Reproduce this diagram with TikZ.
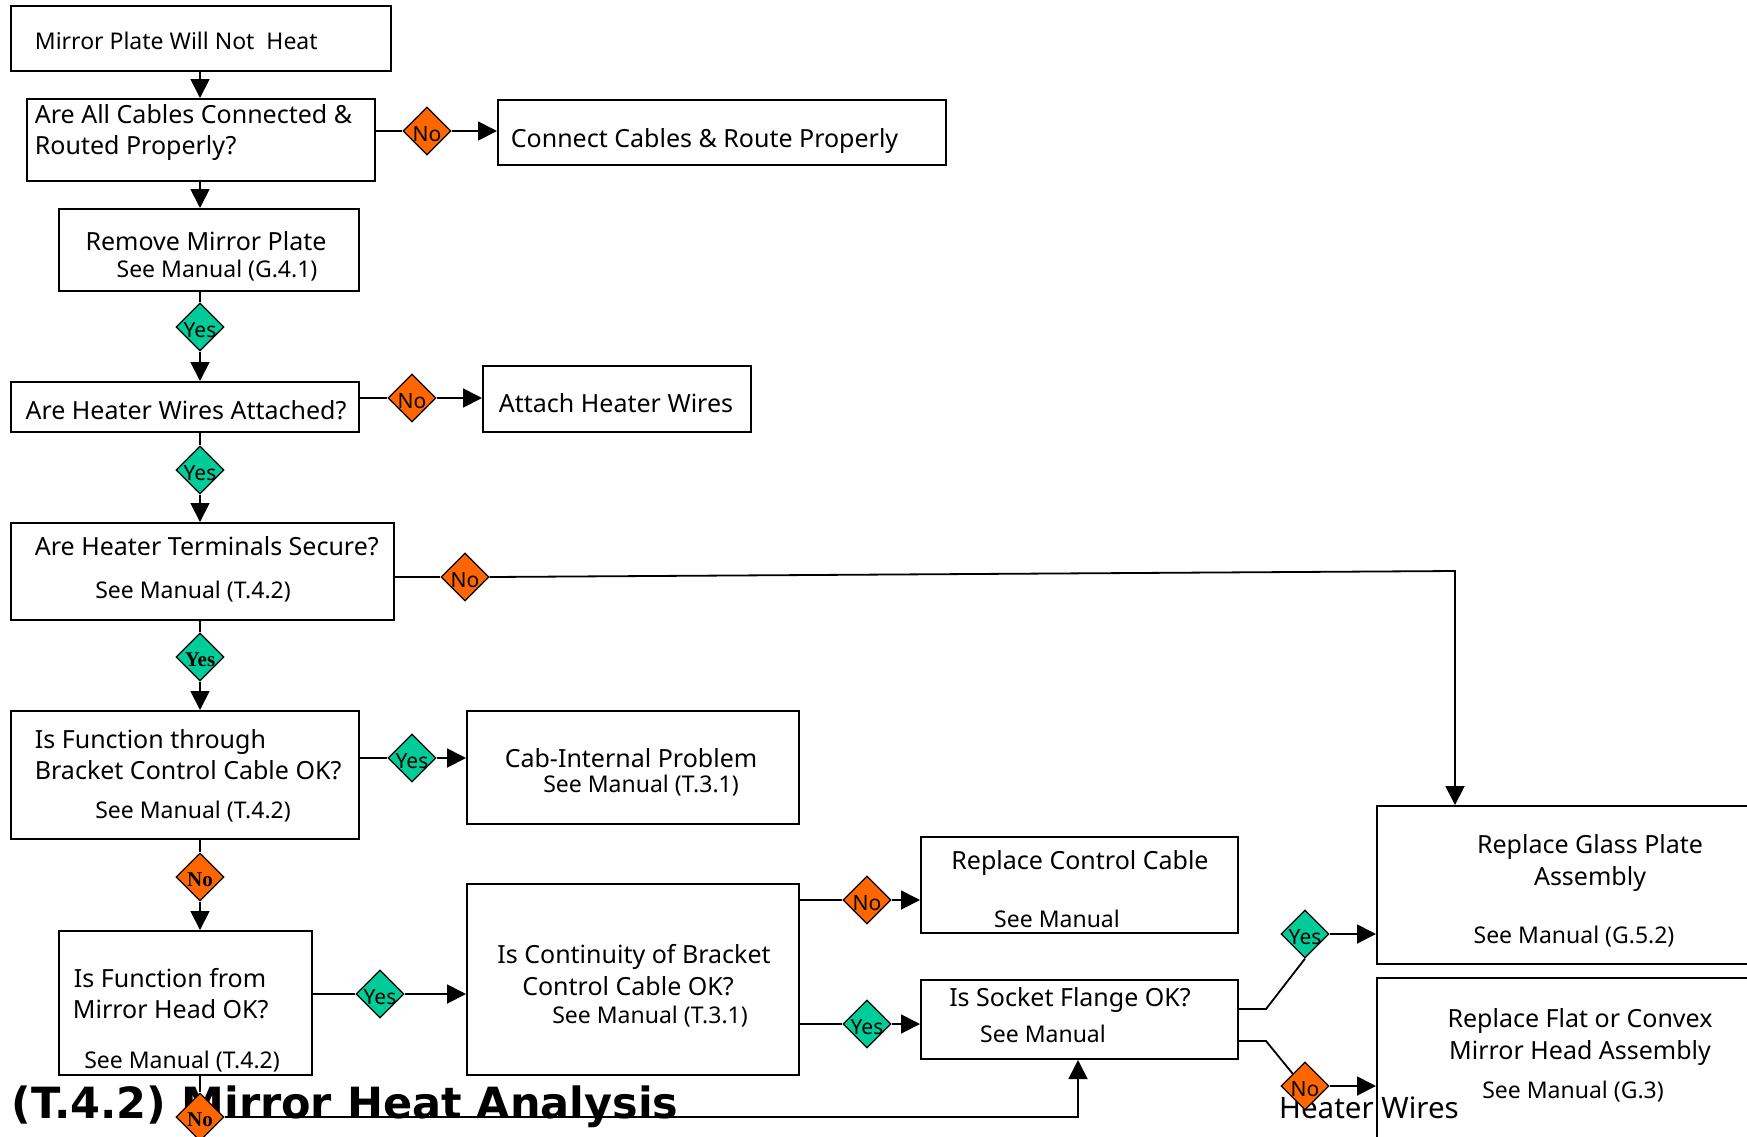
\documentclass[tikz,border=0pt]{standalone}
\usepackage{fontspec}
\setmainfont{Noto Sans}
\newfontfamily\serifyn{Liberation Serif}
\newfontfamily\titlefont{DejaVu Sans}
\newcommand\ynbold{\serifyn\bfseries}
\usetikzlibrary{shapes.geometric,arrows.meta,fit}
\definecolor{noorange}{RGB}{255,102,0}
\definecolor{yesgreen}{RGB}{0,204,153}
\tikzset{box node/.style={draw,line width=2pt,inner sep=0pt},
	q text/.style={inner sep=0pt,font=\fontsize{25}{30}\selectfont},
	ref text/.style={inner sep=0pt,font=\fontsize{23}{28}\selectfont},
	yn text/.style={inner sep=0pt,yshift=-3pt,font=\fontsize{21}{24}\selectfont},
	no node/.style={diamond,draw,fill=noorange,line width=1.2pt,minimum size=48pt,inner sep=0pt,label={[yn text]center:#1}},
	yes node/.style={no node=#1,fill=yesgreen},
	arr/.style={-{Triangle[length=19pt,width=19pt]}},}

\begin{document}
\begin{tikzpicture}[x=1pt,y=-1pt,line width=1.8pt]
	\useasboundingbox (0,0) rectangle (1747,1136);
	\clip (0,0) rectangle (1747,1136);
	\node[anchor=base west,inner sep=0pt,font=\titlefont\bfseries\fontsize{43}{50}\selectfont] (title) at (11,1118) {(T.4.2) Mirror Heat Analysis};

	\node[box node,fit={(11,6)(391,71)}] (1) {};
	\node[box node,fit={(27,99)(375,181)}] (2) {};
	\node[box node,fit={(498,100)(946,165)}] (3) {};
	\node[box node,fit={(59,209)(359,291)}] (4) {};
	\node[box node,fit={(11,382)(359,432)}] (5) {};
	\node[box node,fit={(483,366)(751,432)}] (6) {};
	\node[box node,fit={(11,523)(394,620)}] (7) {};
	\node[box node,fit={(11,711)(359,839)}] (8) {};
	\node[box node,fit={(467,711)(799,824)}] (9) {};
	\node[box node,fit={(59,931)(312,1075)}] (10) {};
	\node[box node,fit={(467,884)(799,1075)}] (11) {};
	\node[box node,fit={(921,837)(1238,933)}] (12) {};
	\node[box node,fit={(921,980)(1238,1059)}] (13) {};
	\node[box node,fit={(1377,806)(1760,964)}] (14) {};
	\node[box node,fit={(1377,978)(1760,1150)}] (15) {};

	\node[ref text,anchor=base west] (t1) at (34,49) {Mirror Plate Will Not\ \ Heat};
	\node[q text,anchor=base west] (t2a) at (34,123) {Are All Cables Connected \&};
	\node[q text,anchor=base west] (t2b) at (34,154) {Routed Properly?};
	\node[q text,anchor=base west] (t3) at (510,147) {Connect Cables \& Route Properly};
	\node[q text,anchor=base] (t4a) at (206,250) {Remove Mirror Plate};
	\node[ref text,anchor=base] (t4b) at (217,277) {See Manual (G.4.1)};
	\node[q text,anchor=base] (t5) at (186,419) {Are Heater Wires Attached?};
	\node[q text,anchor=base] (t6) at (616,412) {Attach Heater Wires};
	\node[q text,anchor=base west] (t7a) at (34,555) {Are Heater Terminals Secure?};
	\node[ref text,anchor=base] (t7b) at (193,598) {See Manual (T.4.2)};
	\node[q text,anchor=base west] (t8a) at (34,748) {Is Function through};
	\node[q text,anchor=base west] (t8b) at (34,779) {Bracket Control Cable OK?};
	\node[ref text,anchor=base] (t8c) at (193,818) {See Manual (T.4.2)};
	\node[q text,anchor=base] (t9a) at (631,767) {Cab-Internal Problem};
	\node[ref text,anchor=base] (t9b) at (641,792) {See Manual (T.3.1)};
	\node[q text,anchor=base west] (t10a) at (73,987) {Is Function from};
	\node[q text,anchor=base west] (t10b) at (72,1018) {Mirror Head OK?};
	\node[ref text,anchor=base] (t10c) at (182,1068) {See Manual (T.4.2)};
	\node[q text,anchor=base] (t11a) at (634,963) {Is Continuity of Bracket};
	\node[q text,anchor=base] (t11b) at (628,995) {Control Cable OK?};
	\node[ref text,anchor=base] (t11c) at (650,1023) {See Manual (T.3.1)};
	\node[q text,anchor=base] (t12a) at (1080,869) {Replace Control Cable};
	\node[ref text,anchor=base] (t12b) at (1057,927) {See Manual};
	\node[q text,anchor=base] (t13a) at (1070,1006) {Is Socket Flange OK?};
	\node[ref text,anchor=base] (t13b) at (1043,1042) {See Manual};
	\node[q text,anchor=base] (t14a) at (1590,853) {Replace Glass Plate};
	\node[q text,anchor=base] (t14b) at (1590,885) {Assembly};
	\node[ref text,anchor=base] (t14c) at (1574,943) {See Manual (G.5.2)};
	\node[q text,anchor=base] (t15a) at (1580,1027) {Replace Flat or Convex};
	\node[q text,anchor=base] (t15b) at (1580,1059) {Mirror Head Assembly};
	\node[ref text,anchor=base] (t15c) at (1573,1098) {See Manual (G.3)};
	\node[inner sep=0pt,anchor=base,font=\fontsize{29.5}{34}\selectfont] (heater) at (1369,1118) {Heater Wires};

	\node[no node=No] (n1) at (427,131) {};
	\node[yes node=Yes] (y2) at (200,327) {};
	\node[no node=No] (n3) at (412,398) {};
	\node[yes node=Yes] (y4) at (200,470) {};
	\node[no node=No] (n5) at (465,577) {};
	\node[yes node={\ynbold Yes}] (y6) at (200,657) {};
	\node[yes node=Yes] (y7) at (412,758) {};
	\node[no node={\ynbold No}] (n8) at (200,877) {};
	\node[yes node=Yes] (y9) at (380,994) {};
	\node[no node=No] (n10) at (867,900) {};
	\node[yes node=Yes] (y11) at (867,1024) {};
	\node[no node={\ynbold No}] (n12) at (200,1117) {};
	\node[yes node=Yes] (y13) at (1305,934) {};
	\node[no node=No] (n14) at (1305,1086) {};

	\coordinate (ax) at (200,0);
	\coordinate (k1) at (1455,571);
	\coordinate (k2) at (1078,0);
	\coordinate (k3) at (1266,1009);
	\coordinate (k4) at (1266,1041);

	\path[draw]
	(1.south -| ax) edge[arr] (2.north -| ax)
	(2.south -| ax) edge[arr] (4.north -| ax)
	(4.south -| ax) edge (y2)
	(y2) edge[arr] (5.north -| ax)
	(5.south -| ax) edge (y4)
	(y4) edge[arr] (7.north -| ax)
	(7.south -| ax) edge (y6)
	(y6) edge[arr] (8.north -| ax)
	(8.south -| ax) edge (n8)
	(n8) edge[arr] (10.north -| ax)
	(10.south -| ax) edge (n12)
	(2.east |- n1) edge (n1)
	(n1) edge[arr] (3.west |- n1)
	(5.east |- n3) edge (n3)
	(n3) edge[arr] (6.west |- n3)
	(7.east |- n5) edge (n5)
	(8.east |- y7) edge (y7)
	(y7) edge[arr] (9.west |- y7)
	(10.east |- y9) edge (y9)
	(y9) edge[arr] (11.west |- y9)
	(11.east |- n10) edge (n10)
	(n10) edge[arr] (12.west |- n10)
	(11.east |- y11) edge (y11)
	(y11) edge[arr] (13.west |- y11)
	(y13) edge[arr] (14.west |- y13)
	(n14) edge[arr] (15.west |- n14)
	;
	\draw[arr] (n5.east) -- (k1) -- (14.north -| k1);
	\draw (13.east |- k3) -- (k3) -- (y13.south);
	\draw (13.east |- k4) -- (k4) -- (n14.north west);
	\draw[arr] (n12.east) -| (13.south -| k2);
\end{tikzpicture}
\end{document}
